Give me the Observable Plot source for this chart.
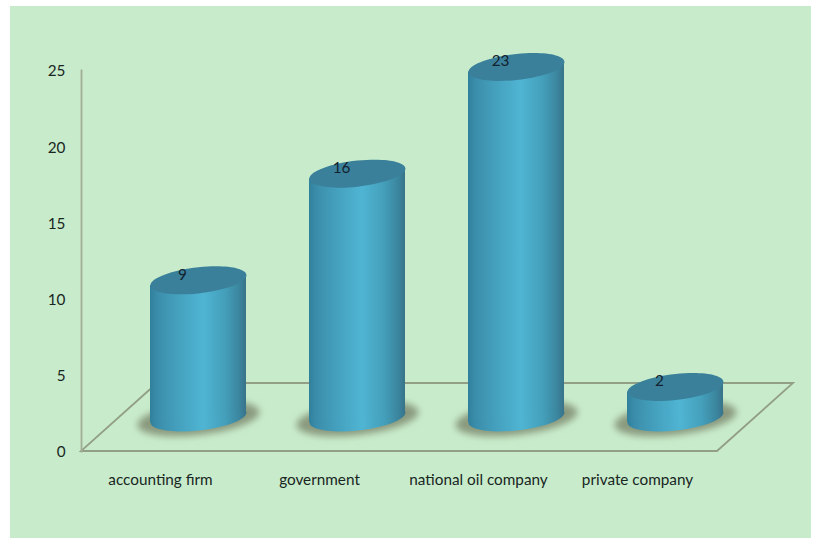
<!DOCTYPE html>
<html>
<head>
<meta charset="utf-8">
<script src="https://cdn.jsdelivr.net/npm/d3@7"></script>
<script src="https://cdn.jsdelivr.net/npm/@observablehq/plot@0.6"></script>
<style>
  html, body { margin: 0; padding: 0; background: #fff; overflow: hidden; }
  #panel { position: absolute; left: 10px; top: 6px; width: 801px; height: 532px; background: #c8eccb; }
  #chart { position: absolute; left: 0; top: 0; }
</style>
</head>
<body>
<div id="panel"></div>
<div id="chart"></div>
<script>
const categories = ["accounting firm", "government", "national oil company", "private company"];
const counts = [9, 16, 23, 2];
const yTicks = [0, 5, 10, 15, 20, 25];

const rows = categories.map((category, i) => ({category, value: counts[i]}));

// Oblique projection of the chart's floor, and of the cylinder bases placed half way into it.
const depthX = 76, depthY = -68;
const baseDx = depthX / 2, baseDy = depthY / 2;
const tiltSlope = -0.105;
const tiltDeg = Math.atan(tiltSlope) * 180 / Math.PI;
const radius = 48;
const flatten = 0.272;

const lineColor = "#939f84";
const wallLine = "#a2ad96";
const topColor = "#3a809a";
const inkColor = "#18261f";

// A tilted ellipse, given to Plot.dot as a symbol.
const disc = {
  draw(ctx, size) {
    const rx = Math.sqrt(size / Math.PI), ry = rx * flatten, k = 0.5523;
    const p = (a, b) => [a * rx, b * ry + tiltSlope * a * rx];
    ctx.moveTo(...p(1, 0));
    ctx.bezierCurveTo(...p(1, k), ...p(k, 1), ...p(0, 1));
    ctx.bezierCurveTo(...p(-k, 1), ...p(-1, k), ...p(-1, 0));
    ctx.bezierCurveTo(...p(-1, -k), ...p(-k, -1), ...p(0, -1));
    ctx.bezierCurveTo(...p(k, -1), ...p(1, -k), ...p(1, 0));
    ctx.closePath();
  }
};

const defs = () => {
  const d = d3.create("svg:defs");
  const g = d.append("linearGradient").attr("id", "cyl").attr("x1", 0).attr("x2", 1).attr("y1", 0).attr("y2", 0);
  [[0, "#30809c"], [0.08, "#3b8eab"], [0.28, "#44a0bd"], [0.55, "#4fb5d3"], [0.78, "#449fba"], [0.93, "#3b859e"], [1, "#387389"]]
    .forEach(([o, c]) => g.append("stop").attr("offset", o).attr("stop-color", c));
  d.append("filter").attr("id", "soft").attr("x", "-20%").attr("y", "-40%").attr("width", "140%").attr("height", "180%")
    .append("feGaussianBlur").attr("stdDeviation", 3.5);
  return d.node();
};

// Floor parallelogram, from the scales' frame.
const floor = (index, scales, values, dims) => {
  const x0 = dims.marginLeft, x1 = dims.width - dims.marginRight, y0 = scales.y(0);
  return d3.create("svg:path")
    .attr("d", `M${x0},${y0}L${x1},${y0}L${x1 + depthX},${y0 + depthY}L${x0 + depthX},${y0 + depthY}Z`)
    .attr("fill", "none").attr("stroke", lineColor).attr("stroke-width", 1.8).node();
};

// The bars keep their scale-derived rects, sheared to meet the tilted discs.
const shear = (index, scales, values, dims, context, next) => {
  const g = next(index, scales, values, dims, context);
  d3.select(g).selectAll("rect").each(function () {
    const r = d3.select(this), cx = +r.attr("x") + +r.attr("width") / 2;
    r.attr("transform", `translate(${cx} 0) skewY(${tiltDeg}) translate(${-cx} 0)`);
  });
  return g;
};

const font = "Lato, 'Open Sans', sans-serif";
const labelSize = 15.3;

const chart = Plot.plot({
  width: 813, height: 538,
  marginLeft: 81, marginRight: 96, marginTop: 70, marginBottom: 87,
  style: {background: "transparent", fontFamily: font, fontSize: labelSize + "px", color: inkColor, overflow: "visible"},
  x: {type: "band", domain: categories, paddingInner: 0.396, paddingOuter: 0.198, label: null},
  y: {domain: [0, 25], label: null},
  marks: [
    defs,
    floor,
    Plot.frame({anchor: "left", stroke: wallLine, strokeWidth: 1.8}),
    Plot.axisY({ticks: yTicks, tickSize: 0, tickPadding: 16, label: null, fontSize: labelSize, fill: inkColor, dy: 1}),
    Plot.axisX({tickSize: 0, tickPadding: 23, label: null, fontSize: labelSize, fill: inkColor}),
    // shadow on the floor
    Plot.dot(rows, {x: "category", y: () => 0, r: 61, symbol: disc, fill: "#8a9a7e", stroke: "none", dx: baseDx, dy: baseDy + 1,
      render(i, s, v, d, c, next) { const g = next(i, s, v, d, c); g.setAttribute("filter", "url(#soft)"); return g; }}),
    // cylinder: base, wall, top
    Plot.dot(rows, {x: "category", y: () => 0, r: radius, symbol: disc, fill: "url(#cyl)", stroke: "none", dx: baseDx, dy: baseDy}),
    Plot.barY(rows, {x: "category", y: "value", fill: "url(#cyl)", dx: baseDx, dy: baseDy, render: shear}),
    Plot.dot(rows, {x: "category", y: "value", r: radius, symbol: disc, fill: topColor, stroke: "none", dx: baseDx, dy: baseDy}),
    Plot.text(rows, {x: "category", y: "value", text: d => String(d.value), fill: "#12222e", fontSize: labelSize, dx: baseDx - 16, dy: baseDy - 5.5})
  ]
});
document.getElementById("chart").appendChild(chart);
</script>
</body>
</html>
